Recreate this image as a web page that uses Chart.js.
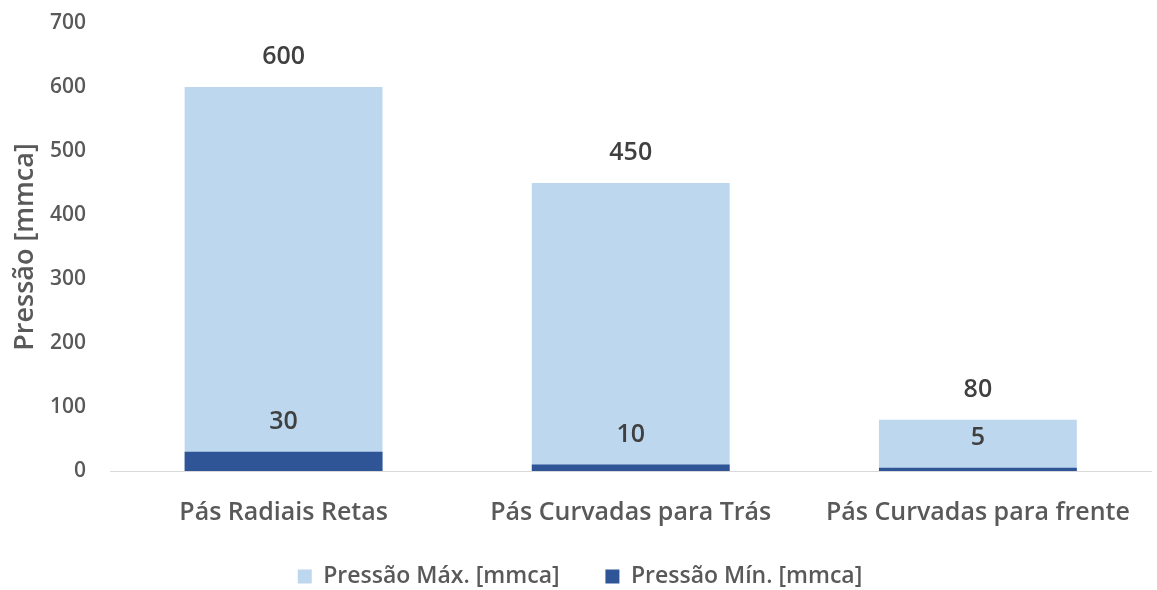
<!DOCTYPE html>
<html>
<head>
<meta charset="utf-8">
<script src="https://cdn.jsdelivr.net/npm/chart.js@4"></script>
<style>
  html, body { margin: 0; padding: 0; background: #ffffff; }
  #wrap { width: 1157px; height: 590px; }
</style>
</head>
<body>
<div id="wrap"><canvas id="c" width="1157" height="590"></canvas></div>
<script>
const categories = ['Pás Radiais Retas', 'Pás Curvadas para Trás', 'Pás Curvadas para frente'];
const pressaoMax = [600, 450, 80];
const pressaoMin = [30, 10, 5];
const seriesNames = ['Pressão Máx. [mmca]', 'Pressão Mín. [mmca]'];
const yTicks = [0, 100, 200, 300, 400, 500, 600, 700];

const FONT = "'Open Sans', 'Liberation Sans', sans-serif";

// value labels written above each bar top
const valueLabels = {
  id: 'valueLabels',
  afterDatasetsDraw(chart) {
    const ctx = chart.ctx;
    ctx.save();
    ctx.font = "600 25px " + FONT;
    ctx.fillStyle = '#404040';
    ctx.textAlign = 'center';
    ctx.textBaseline = 'middle';
    chart.data.datasets.forEach((ds, i) => {
      const meta = chart.getDatasetMeta(i);
      meta.data.forEach((bar, j) => {
        ctx.fillText(String(ds.data[j]), bar.x, bar.y - 30);
      });
    });
    ctx.restore();
  }
};

new Chart(document.getElementById('c'), {
  type: 'bar',
  data: {
    labels: categories,
    datasets: [
      { label: seriesNames[0], data: pressaoMax, backgroundColor: '#BDD7EE', order: 2, grouped: false },
      { label: seriesNames[1], data: pressaoMin, backgroundColor: '#2F5597', order: 1, grouped: false }
    ]
  },
  options: {
    responsive: false,
    animation: false,
    devicePixelRatio: 1,
    layout: { padding: { left: 4, right: 1, top: 23, bottom: -8 } },
    datasets: { bar: { categoryPercentage: 1, barPercentage: 0.57 } },
    scales: {
      x: {
        afterFit(scale) { scale.height = 84; },
        grid: { display: false, drawTicks: false },
        border: { display: true, color: '#D9D9D9', width: 1 },
        ticks: { color: '#595959', font: { family: FONT, size: 25, weight: '600' }, padding: 27 }
      },
      y: {
        min: 0, max: 700,
        afterBuildTicks(scale) { scale.ticks = yTicks.map(v => ({ value: v })); },
        afterFit(scale) { scale.width = 106; scale.paddingTop = 0; scale.paddingBottom = 0; },
        grid: { display: false, drawTicks: false },
        border: { display: false },
        ticks: { color: '#595959', font: { family: FONT, size: 21, weight: '600' }, padding: 24 },
        title: {
          display: true, text: 'Pressão [mmca]', color: '#595959',
          font: { family: FONT, size: 27, weight: '600' }, padding: { top: 5, bottom: 0 }
        }
      }
    },
    plugins: {
      legend: {
        position: 'bottom',
        labels: {
          color: '#595959', font: { family: FONT, size: 23, weight: '600' },
          boxWidth: 14, boxHeight: 14, padding: 10,
          sort: (a, b) => a.datasetIndex - b.datasetIndex,
          // widen the gap after the first entry
          generateLabels(chart) {
            const items = Chart.defaults.plugins.legend.labels.generateLabels(chart);
            items.forEach(it => { if (it.datasetIndex === 0) it.text = it.text + '      '; });
            return items;
          }
        }
      },
      tooltip: { enabled: false }
    }
  },
  plugins: [valueLabels]
});
</script>
</body>
</html>
